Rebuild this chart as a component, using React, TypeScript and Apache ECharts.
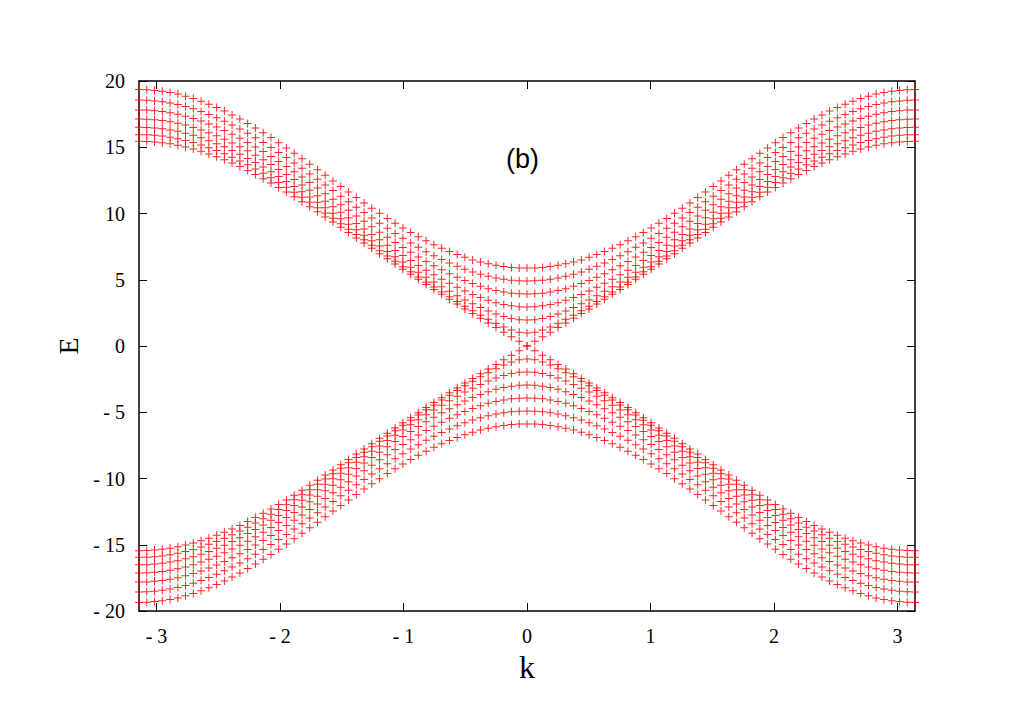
import React, { useEffect, useRef } from "react";
import * as echarts from "echarts";

// k grid (0 .. pi), mirrored to negative k
const K_HALF = [0, 0.063, 0.126, 0.188, 0.251, 0.314, 0.377, 0.440, 0.503, 0.565, 0.628, 0.691, 0.754, 0.817, 0.880, 0.942, 1.005, 1.068, 1.131, 1.194, 1.257, 1.319, 1.382, 1.445, 1.508, 1.571, 1.634, 1.696, 1.759, 1.822, 1.885, 1.948, 2.011, 2.073, 2.136, 2.199, 2.262, 2.325, 2.388, 2.450, 2.513, 2.576, 2.639, 2.702, 2.765, 2.827, 2.890, 2.953, 3.016, 3.079, 3.1416];

// upper bands E_n(k) for k >= 0 (lower bands are -E_n)
const BAND0 = [0, 0.35, 0.69, 1.04, 1.39, 1.74, 2.09, 2.45, 2.80, 3.17, 3.53, 3.90, 4.27, 4.65, 5.03, 5.41, 5.80, 6.19, 6.58, 6.97, 7.37, 7.77, 8.16, 8.56, 8.96, 9.35, 9.74, 10.13, 10.51, 10.89, 11.26, 11.62, 11.97, 12.31, 12.63, 12.95, 13.25, 13.54, 13.81, 14.06, 14.29, 14.50, 14.70, 14.87, 15.02, 15.15, 15.26, 15.34, 15.40, 15.44, 15.45];
const BAND1 = [0.98, 1.04, 1.20, 1.43, 1.71, 2.01, 2.33, 2.66, 3.00, 3.35, 3.71, 4.07, 4.45, 4.82, 5.21, 5.60, 5.99, 6.39, 6.79, 7.19, 7.60, 8.01, 8.41, 8.82, 9.23, 9.64, 10.04, 10.44, 10.84, 11.23, 11.61, 11.98, 12.34, 12.69, 13.03, 13.36, 13.67, 13.97, 14.25, 14.51, 14.75, 14.97, 15.17, 15.35, 15.51, 15.64, 15.75, 15.84, 15.90, 15.94, 15.95];
const BAND2 = [1.96, 1.99, 2.08, 2.23, 2.42, 2.64, 2.90, 3.18, 3.48, 3.80, 4.13, 4.47, 4.83, 5.19, 5.57, 5.95, 6.34, 6.73, 7.13, 7.54, 7.95, 8.36, 8.78, 9.19, 9.61, 10.02, 10.44, 10.85, 11.25, 11.65, 12.04, 12.42, 12.79, 13.16, 13.51, 13.84, 14.16, 14.47, 14.76, 15.03, 15.27, 15.50, 15.71, 15.90, 16.06, 16.20, 16.31, 16.40, 16.46, 16.50, 16.51];
const BAND3 = [2.94, 2.96, 3.03, 3.13, 3.27, 3.45, 3.66, 3.89, 4.15, 4.43, 4.73, 5.04, 5.38, 5.72, 6.08, 6.45, 6.83, 7.21, 7.61, 8.01, 8.42, 8.83, 9.25, 9.67, 10.09, 10.51, 10.93, 11.34, 11.75, 12.16, 12.56, 12.95, 13.33, 13.70, 14.05, 14.40, 14.73, 15.04, 15.33, 15.61, 15.86, 16.10, 16.31, 16.50, 16.67, 16.81, 16.93, 17.02, 17.08, 17.12, 17.14];
const BAND4 = [3.92, 3.94, 3.99, 4.07, 4.19, 4.33, 4.51, 4.71, 4.94, 5.19, 5.46, 5.75, 6.05, 6.38, 6.72, 7.07, 7.44, 7.81, 8.20, 8.59, 9.00, 9.41, 9.82, 10.24, 10.66, 11.08, 11.50, 11.92, 12.34, 12.75, 13.15, 13.55, 13.93, 14.31, 14.67, 15.02, 15.36, 15.68, 15.98, 16.26, 16.52, 16.76, 16.98, 17.17, 17.34, 17.49, 17.60, 17.70, 17.76, 17.81, 17.82];
const BAND5 = [4.90, 4.92, 4.96, 5.03, 5.13, 5.26, 5.41, 5.59, 5.79, 6.02, 6.26, 6.53, 6.82, 7.12, 7.45, 7.78, 8.14, 8.50, 8.88, 9.27, 9.66, 10.07, 10.48, 10.89, 11.31, 11.73, 12.16, 12.58, 12.99, 13.41, 13.81, 14.22, 14.60, 14.99, 15.35, 15.71, 16.05, 16.38, 16.68, 16.97, 17.23, 17.48, 17.70, 17.90, 18.07, 18.22, 18.34, 18.44, 18.50, 18.55, 18.56];
const BAND6 = [5.88, 5.89, 5.93, 6.00, 6.09, 6.20, 6.34, 6.50, 6.69, 6.90, 7.13, 7.38, 7.65, 7.94, 8.25, 8.57, 8.91, 9.27, 9.63, 10.01, 10.40, 10.80, 11.21, 11.62, 12.04, 12.46, 12.88, 13.30, 13.72, 14.14, 14.54, 14.95, 15.34, 15.73, 16.10, 16.46, 16.80, 17.13, 17.44, 17.73, 18.00, 18.25, 18.48, 18.68, 18.85, 19.01, 19.13, 19.23, 19.29, 19.34, 19.35];

const BANDS = [BAND0, BAND1, BAND2, BAND3, BAND4, BAND5, BAND6];

const X_TICKS = [-3, -2, -1, 0, 1, 2, 3];
const Y_MIN = -20;
const Y_MAX = 20;
const Y_STEP = 5;
const TITLE = "(b)";

const PLUS = "path://M0 3.5H8V4.5H0Z M3.5 0H4.5V8H3.5Z";

function buildPoints(): number[][] {
  const pts: number[][] = [];
  BANDS.forEach((band) => {
    band.forEach((e, j) => {
      const k = K_HALF[j];
      pts.push([k, e], [k, -e]);
      if (j > 0) pts.push([-k, e], [-k, -e]);
    });
  });
  return pts;
}

const fmt = (v: number) => (v < 0 ? "- " + Math.abs(v) : String(v));

export default function App() {
  const ref = useRef<HTMLDivElement>(null);
  useEffect(() => {
    if (!ref.current) return;
    const chart = echarts.init(ref.current, undefined, { renderer: "svg" });
    const serif = "Liberation Serif";
    const axisLine = { show: true, onZero: false, lineStyle: { color: "#000", width: 1.5 } };
    const tick = { inside: true, length: 8, lineStyle: { color: "#000", width: 1 } };
    chart.setOption({
      animation: false,
      backgroundColor: "#fff",
      grid: { left: 139, right: 111, top: 81, bottom: 114 },
      xAxis: [
        {
          type: "value",
          min: -Math.PI,
          max: Math.PI,
          position: "bottom",
          axisLine,
          splitLine: { show: false },
          axisTick: { ...tick, customValues: X_TICKS },
          axisLabel: { customValues: X_TICKS, formatter: fmt, color: "#000", fontFamily: serif, fontSize: 20, margin: 15 },
          name: "k",
          nameLocation: "middle",
          nameGap: 40,
          nameTextStyle: { fontFamily: serif, fontSize: 32, color: "#000" },
        },
        {
          type: "value",
          min: -Math.PI,
          max: Math.PI,
          position: "top",
          axisLine,
          splitLine: { show: false },
          axisTick: { ...tick, customValues: X_TICKS },
          axisLabel: { show: false },
        },
      ],
      yAxis: [
        {
          type: "value",
          min: Y_MIN,
          max: Y_MAX,
          interval: Y_STEP,
          position: "left",
          axisLine,
          splitLine: { show: false },
          axisTick: tick,
          axisLabel: { formatter: fmt, color: "#000", fontFamily: serif, fontSize: 20, margin: 14 },
          name: "E",
          nameLocation: "middle",
          nameGap: 52,
          nameTextStyle: { fontFamily: serif, fontSize: 28, color: "#000" },
        },
        {
          type: "value",
          min: Y_MIN,
          max: Y_MAX,
          interval: Y_STEP,
          position: "right",
          axisLine,
          splitLine: { show: false },
          axisTick: tick,
          axisLabel: { show: false },
        },
      ],
      graphic: [
        {
          type: "text",
          left: 506,
          top: 145,
          style: { text: TITLE, font: "27px 'Liberation Sans'", fill: "#000" },
        },
      ],
      series: [
        {
          type: "scatter",
          data: buildPoints(),
          symbol: PLUS,
          symbolSize: 8,
          itemStyle: { color: "#ff0000", opacity: 0.85 },
          silent: true,
        },
      ],
    });
    return () => chart.dispose();
  }, []);
  return <div ref={ref} style={{ position: "fixed", left: 0, top: 0, width: 1026, height: 725 }} />;
}
